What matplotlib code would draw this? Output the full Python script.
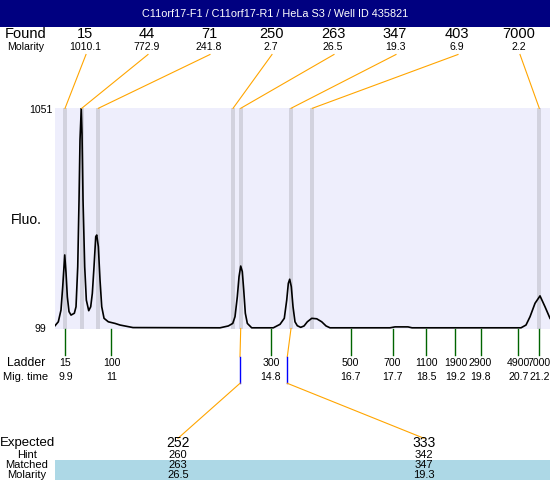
import matplotlib
matplotlib.use("Agg")
import matplotlib.pyplot as plt

plt.rcParams['font.family'] = ['Liberation Sans', 'DejaVu Sans']

title = "C11orf17-F1 / C11orf17-R1 / HeLa S3 / Well ID 435821"

# found peaks: size, molarity, migration time (s)
found_size = [15, 44, 71, 250, 263, 347, 403, 7000]
found_mol = ["1010.1", "772.9", "241.8", "2.7", "26.5", "19.3", "6.9", "2.2"]
found_time = [9.893, 10.291, 10.687, 13.898, 14.081, 15.28, 15.788, 21.199]

# ladder
ladder_size = [15, 100, 300, 500, 700, 1100, 1900, 2900, 4900, 7000]
ladder_time = [9.9, 11, 14.8, 16.7, 17.7, 18.5, 19.2, 19.8, 20.7, 21.2]

# expected / matched
expected = [252, 333]
hint = [260, 342]
matched = [263, 347]
matched_mol = ["26.5", "19.3"]
matched_time = [14.081, 15.28]

# electropherogram trace
trace_t = [9.654, 9.733, 9.797, 9.838, 9.886, 9.917, 9.948, 9.988, 10.036, 10.115,
           10.155, 10.196, 10.227, 10.250, 10.280, 10.298, 10.322, 10.362, 10.401, 10.458,
           10.505, 10.544, 10.584, 10.625, 10.649, 10.687, 10.727, 10.768, 10.823, 10.925,
           11.085, 11.204, 11.514, 13.588, 13.786, 13.891, 13.945, 14.000, 14.041, 14.081,
           14.119, 14.153, 14.191, 14.239, 14.343, 14.858, 15.018, 15.120, 15.178, 15.216,
           15.249, 15.287, 15.328, 15.375, 15.430, 15.511, 15.591, 15.669, 15.774, 15.893,
           16.012, 16.115, 16.210, 17.640, 17.759, 18.069, 18.165, 20.763, 20.882, 20.978,
           21.097, 21.216, 21.335, 21.454]
trace_f = [111, 128, 179, 280, 417, 339, 236, 172, 157, 165,
           193, 366, 655, 914, 1051, 943, 655, 366, 222, 176,
           193, 251, 366, 496, 503, 453, 309, 193, 143, 128,
           121, 114, 103, 102, 110, 121, 150, 236, 323, 369,
           345, 265, 165, 121, 102, 102, 117, 143, 222, 294,
           312, 280, 193, 128, 111, 104, 110, 128, 143, 141,
           128, 110, 102, 102, 106, 106, 102, 102, 114, 150,
           208, 240, 193, 143]

W, H = 550, 480
fig = plt.figure(figsize=(5.5, 4.8), dpi=100)

# plot area in pixels
px_l, px_r, px_t, px_b = 55, 550, 108.3, 328.5
ax = fig.add_axes([px_l / W, 1 - px_b / H, (px_r - px_l) / W, (px_b - px_t) / H])
ax.set_facecolor('#eeeefc')
ax.set_xlim(9.654, 21.454)
ax.set_ylim(99, 1051)
for s in ax.spines.values():
    s.set_visible(False)
ax.set_xticks([])
ax.set_yticks([])

for t in found_time:
    ax.axvspan(t - 0.047, t + 0.047, color='#d2d2de', lw=0, zorder=1)
ax.plot(trace_t, trace_f, color='black', lw=1.2, zorder=3)

# overlay in pixel coordinates for texts and connectors
ov = fig.add_axes([0, 0, 1, 1], zorder=5)
ov.set_xlim(0, W)
ov.set_ylim(H, 0)
ov.axis('off')


def to_px(t):
    return ov.transData.inverted().transform(ax.transData.transform((t, 99)))[0]


ov.add_patch(plt.Rectangle((0, 0), W, 27, color='#000080', lw=0))
ov.text(W / 2, 14, title, color='white', fontsize=7.8, ha='center', va='center')

# found row
ov.text(26, 34.5, "Found", fontsize=10.5, ha='center', va='center')
ov.text(26, 46.5, "Molarity", fontsize=7.6, ha='center', va='center')
for i, (s, m, t) in enumerate(zip(found_size, found_mol, found_time)):
    lx = 85 + 62 * i
    ov.text(lx, 34.5, str(s), fontsize=10.5, ha='center', va='center')
    ov.text(lx, 46.5, m, fontsize=7.6, ha='center', va='center')
    ov.plot([lx + 1, to_px(t)], [54.5, px_t], color='#ffa500', lw=0.8)

# y labels
ov.text(40.5, 110, "1051", fontsize=7.6, ha='center', va='center')
ov.text(40.5, 329.5, "99", fontsize=7.6, ha='center', va='center')
ov.text(26.5, 220, "Fluo.", fontsize=10, ha='center', va='center')

# ladder
ov.text(26.5, 363, "Ladder", fontsize=8.8, ha='center', va='center')
ov.text(26, 377, "Mig. time", fontsize=8, ha='center', va='center')
for s, t in zip(ladder_size, ladder_time):
    x = to_px(t)
    ov.plot([x, x], [px_b, 355], color='#006400', lw=1)
    ov.text(x, 363, str(s), fontsize=7.6, ha='center', va='center')
    ov.text(x, 377, str(t), fontsize=7.6, ha='center', va='center')

# expected / matched
ov.add_patch(plt.Rectangle((55, 460), W - 55, 20, color='#add8e6', lw=0))
ov.text(27.5, 443, "Expected", fontsize=9.5, ha='center', va='center')
ov.text(27, 455, "Hint", fontsize=8, ha='center', va='center')
ov.text(27, 465, "Matched", fontsize=8, ha='center', va='center')
ov.text(27, 474.5, "Molarity", fontsize=8, ha='center', va='center')
exp_line_x = [240, 287.3]
exp_label_x = [178, 424]
for e, h, m, mm, t, vx, lx in zip(expected, hint, matched, matched_mol, matched_time,
                                    exp_line_x, exp_label_x):
    ov.plot([to_px(t), vx], [px_b, 356.7], color='#ffa500', lw=0.8)
    ov.plot([vx, vx], [356.7, 383.3], color='#0000ff', lw=1)
    ov.plot([vx, lx], [383.3, 438.3], color='#ffa500', lw=0.8)
    ov.text(lx, 443, str(e), fontsize=10, ha='center', va='center')
    ov.text(lx, 455, str(h), fontsize=8, ha='center', va='center')
    ov.text(lx, 465, str(m), fontsize=8, ha='center', va='center')
    ov.text(lx, 474.5, mm, fontsize=8, ha='center', va='center')

fig.savefig("out.png", dpi=100)
